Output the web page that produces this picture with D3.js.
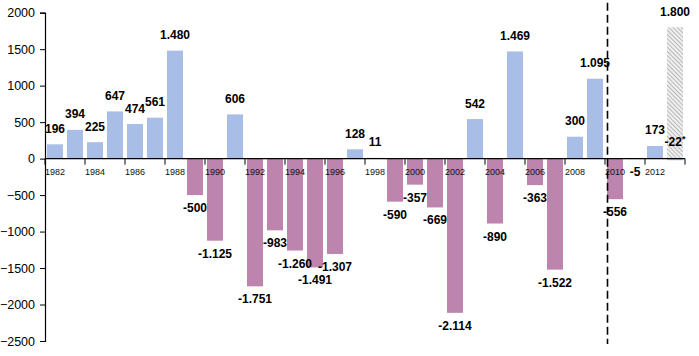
<!DOCTYPE html>
<html>
<head>
<meta charset="utf-8">
<script src="https://cdn.jsdelivr.net/npm/d3@7"></script>
<style>
  html, body { margin: 0; padding: 0; background: #fff; }
  svg { display: block; }
  text { font-family: "Liberation Sans", Arial, sans-serif; }
</style>
</head>
<body>
<svg id="chart" width="699" height="356"></svg>
<script>
// ---- data ----
const years = ["1982","1983","1984","1985","1986","1987","1988","1989","1990","1991",
  "1992","1993","1994","1995","1996","1997","1998","1999","2000","2001",
  "2002","2003","2004","2005","2006","2007","2008","2009","2010","2011",
  "2012","2013"];
const values = [196, 394, 225, 647, 474, 561, 1480, -500, -1125, 606,
  -1751, -983, -1260, -1491, -1307, 128, 11, -590, -357, -669,
  -2114, 542, -890, 1469, -363, -1522, 300, 1095, -556, -5,
  173, -22];
const provisionalYears = ["2013"];          // marked with *
const projectionYears = ["2013"];
const projectionValues = [1800];
const dividerYear = "2010";
const yTicks = [2000, 1500, 1000, 500, 0, -500, -1000, -1500, -2000, -2500];
const xTickLabels = ["1982","1984","1986","1988","1990","1992","1994","1996","1998",
  "2000","2002","2004","2006","2008","2010","2012"];

// ---- setup ----
const W = 699, H = 356;
const svg = d3.select("#chart");
const blue = "#a8bee7", purple = "#bd84ad";

const x = d3.scaleBand().domain(years).range([45, 685]).paddingInner(0.2).paddingOuter(0.1);
const y = d3.scaleLinear().domain([-2500, 2000]).range([341, 12.7]);
const y0 = y(0);

const loc = d3.formatLocale({decimal: ",", thousands: ".", grouping: [3], currency: ["", ""], minus: "-"});
const fmt = loc.format(",d");

// hatch pattern
const defs = svg.append("defs");
const pat = defs.append("pattern").attr("id", "hatch").attr("patternUnits", "userSpaceOnUse")
  .attr("width", 3).attr("height", 3).attr("patternTransform", "rotate(-45)");
pat.append("rect").attr("width", 3).attr("height", 3).attr("fill", "#efefef");
pat.append("line").attr("x1", 0).attr("y1", 0).attr("x2", 0).attr("y2", 3)
  .attr("stroke", "#acacac").attr("stroke-width", 1.6);

// projection bars
svg.append("g").selectAll("rect").data(projectionYears.map((d, i) => ({year: d, v: projectionValues[i]})))
  .join("rect")
  .attr("x", d => x(d.year)).attr("width", x.bandwidth())
  .attr("y", d => y(Math.max(0, d.v))).attr("height", d => Math.abs(y(d.v) - y0))
  .attr("fill", "url(#hatch)");

// bars
const data = years.map((yr, i) => ({year: yr, v: values[i], prov: provisionalYears.includes(yr)}));
svg.append("g").selectAll("rect").data(data).join("rect")
  .attr("x", d => x(d.year)).attr("width", x.bandwidth())
  .attr("y", d => y(Math.max(0, d.v)))
  .attr("height", d => Math.max(Math.abs(y(d.v) - y0), 0.5))
  .attr("fill", d => (d.v >= 0 || d.prov) ? blue : purple);

// y axis
const yAxis = d3.axisLeft(y).tickValues(yTicks).tickSize(5).tickPadding(5).tickFormat(d3.format("d"));
const gy = svg.append("g").attr("transform", "translate(45,0)").call(yAxis);
gy.select(".domain").attr("stroke", "#000").attr("stroke-width", 1.2);
gy.selectAll(".tick line").attr("stroke", "#000");
gy.selectAll(".tick text").attr("font-size", 12.5).attr("fill", "#000")
  .attr("font-family", "'Liberation Sans', Arial, sans-serif");

// x axis line
const step = x.step();
const gap = step * x.paddingInner() / 2;
const x0 = x.range()[0], x1 = x.range()[1];
svg.append("line").attr("x1", x0).attr("x2", x1).attr("y1", y0).attr("y2", y0)
  .attr("stroke", "#000").attr("stroke-width", 1.2);
// x tick marks every second category boundary
const boundaries = years.map(yr => x(yr) - gap).concat([x(years[years.length - 1]) + x.bandwidth() + gap])
  .filter((d, i) => i % 2 === 0);
svg.append("g").selectAll("line").data(boundaries).join("line")
  .attr("x1", d => d).attr("x2", d => d).attr("y1", y0).attr("y2", y0 + 6)
  .attr("stroke", "#000");

// x tick labels
svg.append("g").selectAll("text").data(xTickLabels).join("text")
  .attr("x", d => x(d) + x.bandwidth() / 2).attr("y", y0 + 16)
  .attr("text-anchor", "middle").attr("font-size", 9).attr("fill", "#111")
  .text(d => d);

// divider dashed line
svg.append("line")
  .attr("x1", x(dividerYear) + 0.5).attr("x2", x(dividerYear) + 0.5)
  .attr("y1", y.range()[1] - 10).attr("y2", y.range()[0] + 3)
  .attr("stroke", "#000").attr("stroke-width", 1.6).attr("stroke-dasharray", "8,4");

// value labels
const lbl = svg.append("g").attr("font-size", 12).attr("font-weight", "bold").attr("fill", "#000")
  .attr("text-anchor", "middle");
data.forEach(d => {
  const cx = x(d.year) + x.bandwidth() / 2;
  let ty;
  if (d.prov) ty = y0 - 13;
  else if (d.v >= 0) ty = y(d.v) - 11.5;
  else ty = y(d.v) + 17;
  const t = lbl.append("text").attr("x", cx).attr("y", ty).text(fmt(d.v));
  if (d.prov) t.append("tspan").attr("font-size", 9).attr("dy", -4).text("*");
});
projectionYears.forEach((yr, i) => {
  lbl.append("text").attr("x", x(yr) + x.bandwidth() / 2).attr("y", y(projectionValues[i]) - 11)
    .text(fmt(projectionValues[i]));
});
</script>
</body>
</html>
